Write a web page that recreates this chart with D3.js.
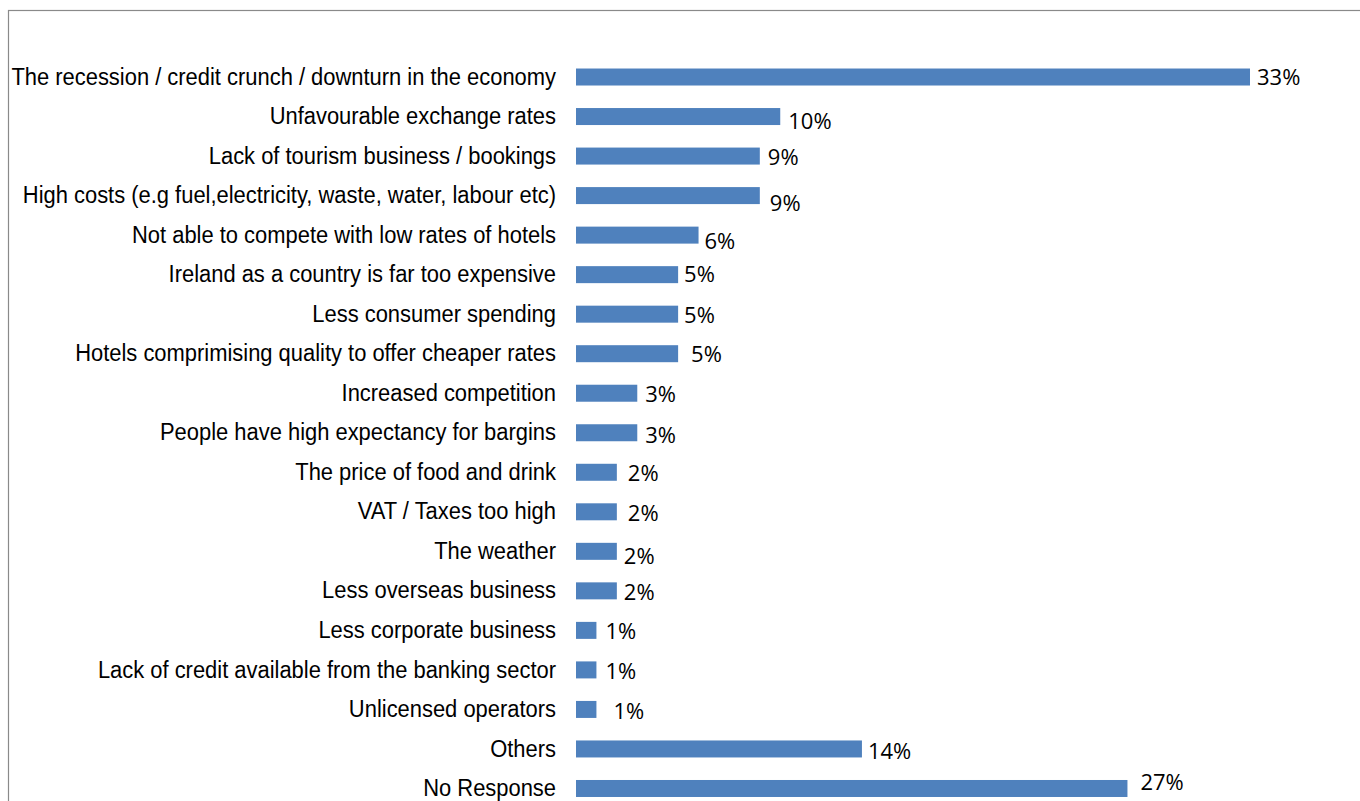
<!DOCTYPE html>
<html>
<head>
<meta charset="utf-8">
<script src="https://cdn.jsdelivr.net/npm/d3@7"></script>
<style>
  html, body { margin: 0; padding: 0; background: #ffffff; }
  svg { display: block; }
</style>
</head>
<body>
<svg id="chart" width="1360" height="801"></svg>
<script>
// Reasons cited, in chart order (top to bottom)
const categories = [
  "The recession / credit crunch / downturn in the economy",
  "Unfavourable exchange rates",
  "Lack of tourism business / bookings",
  "High costs (e.g fuel,electricity, waste, water, labour etc)",
  "Not able to compete with low rates of hotels",
  "Ireland as a country is far too expensive",
  "Less consumer spending",
  "Hotels comprimising quality to offer cheaper rates",
  "Increased competition",
  "People have high expectancy for bargins",
  "The price of food and drink",
  "VAT / Taxes too high",
  "The weather",
  "Less overseas business",
  "Less corporate business",
  "Lack of credit available from the banking sector",
  "Unlicensed operators",
  "Others",
  "No Response"
];

// Share of respondents (%)
const values = [33, 10, 9, 9, 6, 5, 5, 5, 3, 3, 2, 2, 2, 2, 1, 1, 1, 14, 27];

// Hand-placed data label nudges [dx, dy] in px
const labelNudges = [
  [-1, -1], [0, 3], [0, 0], [2, 6], [-2, 5], [-2, -2], [-2, 0], [5, -1],
  [0, 0], [0, 1.5], [3, 0], [3, 0], [-1, 3.5], [-1, 0], [1, 0], [1, 0],
  [9, 1], [-2, 1], [5, -7.5]
];

const svg = d3.select("#chart");

// Chart area frame
svg.append("rect")
  .attr("x", 8.5).attr("y", 10.5)
  .attr("width", 1400).attr("height", 900)
  .attr("fill", "none")
  .attr("stroke", "#8a8a8a")
  .attr("stroke-width", 1.2);

const plotLeft = 576;
const x = d3.scaleLinear().domain([0, 33]).range([plotLeft, plotLeft + 674]);

const y = d3.scaleBand()
  .domain(categories)
  .range([57.25, 808.25])
  .paddingInner(0.57)
  .paddingOuter(0.285);

const rows = categories.map((c, i) => ({ c, v: values[i], n: labelNudges[i] }));

// Category axis labels (slightly condensed sans)
const yAxis = d3.axisLeft(y).tickSize(0).tickPadding(20);
const gAxis = svg.append("g")
  .attr("transform", `translate(${plotLeft},0)`)
  .call(yAxis);
gAxis.select(".domain").remove();
gAxis.selectAll("text")
  .attr("font-family", "'Liberation Sans', Arial, sans-serif")
  .attr("font-size", 23)
  .attr("fill", "#000")
  .attr("dy", "0.33em")
  .each(function () {
    const len = this.getComputedTextLength();
    d3.select(this)
      .attr("textLength", len * 0.953)
      .attr("lengthAdjust", "spacingAndGlyphs");
  });

// Bars
svg.append("g").selectAll("rect")
  .data(rows)
  .join("rect")
  .attr("x", x(0))
  .attr("y", d => y(d.c))
  .attr("width", d => x(d.v) - x(0))
  .attr("height", y.bandwidth())
  .attr("fill", "#4f81bd");

// Value labels
svg.append("g").selectAll("text")
  .data(rows)
  .join("text")
  .attr("x", d => x(d.v) + 8 + d.n[0])
  .attr("y", d => y(d.c) + y.bandwidth() / 2 + d.n[1])
  .attr("dominant-baseline", "central")
  .attr("font-family", "'Open Sans', 'Noto Sans', sans-serif")
  .attr("font-size", 22)
  .attr("fill", "#000")
  .text(d => d.v + "%");
</script>
</body>
</html>
